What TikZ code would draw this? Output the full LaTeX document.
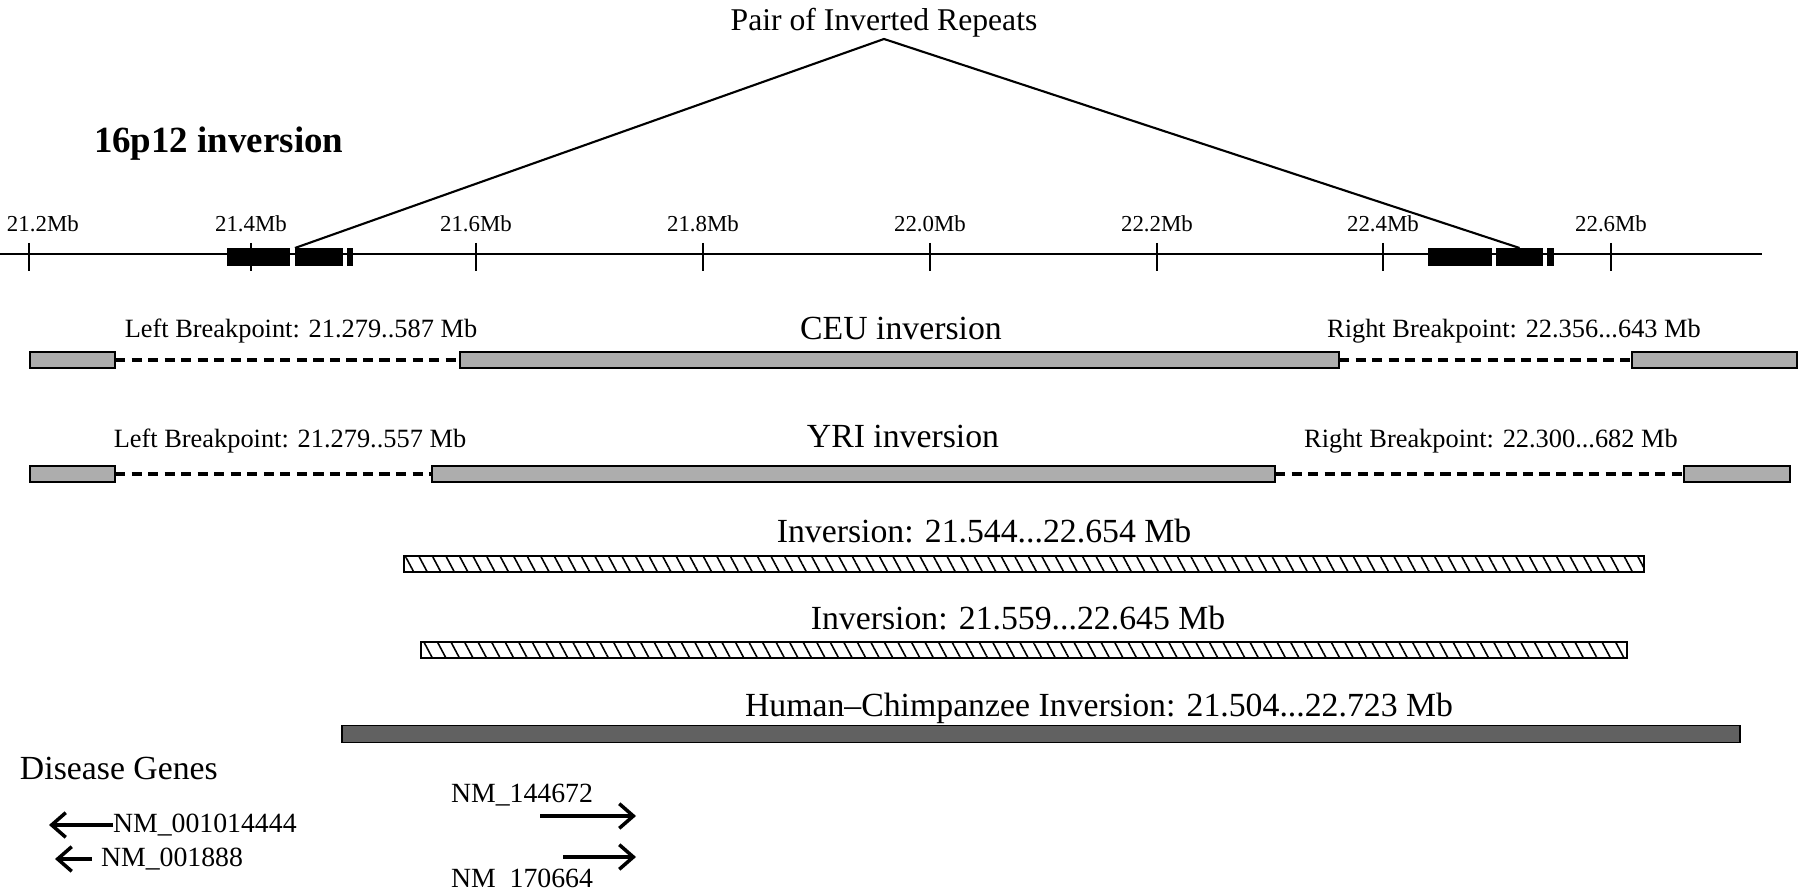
\documentclass[tikz,border=0pt]{standalone}
\usepackage{fontspec}
\setmainfont{Liberation Serif}
\usetikzlibrary{arrows.meta,patterns.meta,positioning}
\tikzstyle{every node}+=[inner sep=0pt,outer sep=0pt]
\tikzstyle{every path}+=[line width=0.6pt]
\tikzstyle{graybar}=[draw,rectangle,fill=black!32,line width=0.5pt,minimum height=0.16cm]
\tikzstyle{hatchbar}=[draw,rectangle,line width=0.5pt,minimum height=0.16cm,pattern={Lines[angle=-62,distance=3.4pt,line width=0.45pt]}]
\tikzstyle{darkbar}=[draw,rectangle,fill=black!62,line width=0.5pt,minimum height=0.17cm]
\tikzstyle{irblock}=[rectangle,fill=black,minimum height=0.18cm]
\tikzstyle{gapline}=[line width=1.1pt,dash pattern=on 2.9pt off 1.8pt]
\tikzstyle{titlelab}=[font=\fontsize{9}{10}\selectfont]
\tikzstyle{biglab}=[font=\fontsize{9.6}{11}\selectfont]
\tikzstyle{boldlab}=[font=\fontsize{10.5}{12}\selectfont\bfseries]
\tikzstyle{bplab}=[font=\fontsize{7.5}{9}\selectfont]
\tikzstyle{ticklab}=[font=\fontsize{6.5}{8}\selectfont]
\tikzstyle{genelab}=[font=\fontsize{7.9}{9}\selectfont]
\tikzstyle{genearrow}=[line width=1pt,-{Straight Barb[length=4pt,width=7pt]}]
\newcommand{\segbar}[5]{
	\node[#2,anchor=west,minimum width={(#4-#3)*0.01cm}] (#1) at (#3,#5) {};
}
\newcommand{\drawgaps}[2][gapline]{
	\foreach \a/\b in {#2}{
		\draw[#1] (\a.east) -- (\b.west);
	}
}

\begin{document}
\begin{tikzpicture}[x=0.01cm,y=-0.01cm]
\useasboundingbox (0,0) rectangle (1800,889);

% title
\node[titlelab,anchor=base] (title) at (884,31) {Pair of Inverted Repeats};
\coordinate (apex) at (884,39);
\node[boldlab,anchor=base west] (name) at (94,153) {16p12 inversion};

% axis with ticks
\coordinate (axl) at (0,254);
\coordinate (axr) at (1762,254);
\draw (axl) -- (axr);
\foreach \m/\x/\lab in {1/251/21.4,2/476/21.6,3/703/21.8,4/930/22.0,5/1157/22.2,6/1383/22.4,7/1611/22.6}{
	\draw (\x,243) -- (\x,271);
	\node[ticklab,anchor=base] (tl\m) at (\x,232) {\lab Mb};
}
\draw (29,243) -- (29,271);
\node[ticklab,anchor=base west] (tl0) at (7,232) {21.2Mb};

% inverted repeats
\segbar{rp1}{irblock}{227}{290}{257}
\segbar{rp2}{irblock}{295}{343}{257}
\segbar{rp3}{irblock}{347}{353}{257}
\segbar{rp4}{irblock}{1428}{1492}{257}
\segbar{rp5}{irblock}{1496}{1543}{257}
\segbar{rp6}{irblock}{1547}{1554}{257}
\draw (rp2.north west) -- (apex) -- (rp5.north);

% CEU
\segbar{ceuL}{graybar}{30}{115}{360}
\segbar{ceuM}{graybar}{460}{1339}{360}
\segbar{ceuR}{graybar}{1632}{1797}{360}
\node[bplab,anchor=base] (ceuLB) at (301,338) {Left Breakpoint: 21.279..587 Mb};
\node[biglab,anchor=base] (ceuT) at (901,340) {CEU inversion};
\node[bplab,anchor=base] (ceuRB) at (1514,338) {Right Breakpoint: 22.356...643 Mb};

% YRI
\segbar{yriL}{graybar}{30}{115}{474}
\segbar{yriM}{graybar}{432}{1275}{474}
\segbar{yriR}{graybar}{1684}{1790}{474}
\node[bplab,anchor=base] (yriLB) at (290,448) {Left Breakpoint: 21.279..557 Mb};
\node[biglab,anchor=base] (yriT) at (903,448) {YRI inversion};
\node[bplab,anchor=base] (yriRB) at (1491,448) {Right Breakpoint: 22.300...682 Mb};

\drawgaps{ceuL/ceuM,ceuM/ceuR,yriL/yriM,yriM/yriR}

% other inversions
\segbar{inv1}{hatchbar}{404}{1644}{564}
\node[biglab,anchor=base] (inv1T) at (984,543) {Inversion: 21.544...22.654 Mb};
\segbar{inv2}{hatchbar}{421}{1627}{650}
\node[biglab,anchor=base] (inv2T) at (1018,630) {Inversion: 21.559...22.645 Mb};
\segbar{hc}{darkbar}{342}{1740}{734}
\node[biglab,anchor=base] (hcT) at (1099,717) {Human--Chimpanzee Inversion: 21.504...22.723 Mb};

% disease genes
\node[biglab,anchor=base west] (dg) at (20,780) {Disease Genes};
\node[genelab,anchor=west] (g1) at (113,825) {NM\_001014444};
\node[genelab,anchor=west] (g2) at (101,859) {NM\_001888};
\node[genelab,anchor=base west] (g3) at (451,803) {NM\_144672};
\node[genelab,anchor=base west] (g4) at (451,888) {NM\_170664};
\coordinate (g1e) at (49,825);
\coordinate (g2e) at (55,859);
\coordinate (g3s) at (540,816);
\coordinate (g3e) at (636,816);
\coordinate (g4s) at (563,857);
\coordinate (g4e) at (636,857);
\draw[genearrow] (g1.west) -- (g1e);
\draw[genearrow,shorten <=2.5pt] (g2.west) -- (g2e);
\draw[genearrow] (g3s) -- (g3e);
\draw[genearrow] (g4s) -- (g4e);

\end{tikzpicture}
\end{document}
